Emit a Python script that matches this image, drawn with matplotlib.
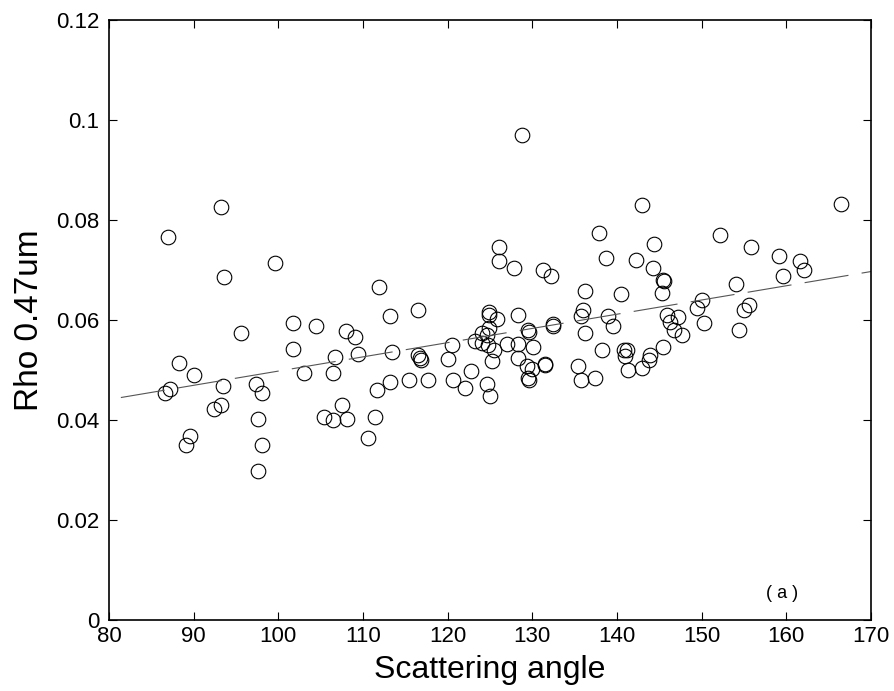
import numpy as np
import matplotlib.pyplot as plt

plt.rcParams["font.family"] = ["Liberation Sans", "DejaVu Sans"]

# scattering angle (deg) and reflectance at 0.47um
angle = [
    87.0, 93.26, 99.66, 93.6, 95.55, 88.27, 90.07, 86.6, 87.24, 93.43,
    97.4, 98.03, 92.4, 93.26, 97.56, 89.53, 89.1, 98.03, 97.6, 111.92,
    113.15, 116.46, 101.73, 104.45, 107.96, 109.02, 101.73, 106.73, 109.45, 113.39,
    116.5, 116.7, 116.9, 103.03, 106.49, 113.15, 111.69, 115.43, 117.68, 107.55,
    105.43, 106.49, 108.15, 111.45, 110.62,
    120.47, 120.07, 120.66, 122.08, 122.72, 123.19, 124.0, 124.6, 124.0, 124.8,
    124.84, 124.84, 125.79, 124.88, 125.47, 125.2, 124.6, 125.0, 126.02, 126.02,
    127.87, 128.27, 127.0, 128.27, 128.27, 128.74, 129.5, 129.6, 130.11, 129.33,
    129.92, 129.5, 129.6, 131.22, 132.24, 132.45, 132.45, 131.49, 131.45, 136.2,
    136.02, 135.75, 136.2, 135.36, 135.75, 137.4, 137.87, 138.7, 138.9, 139.53,
    138.27,
    142.99, 142.2, 140.5, 140.86, 141.22, 140.98, 141.33, 142.99, 143.86, 143.8,
    144.41, 144.25, 145.47, 145.55, 145.27, 145.47, 145.94, 147.2, 146.26, 146.73,
    147.64, 150.07, 149.4, 150.24, 152.13, 154.01, 154.37, 155.03, 155.62, 155.82,
    159.17, 159.64, 161.6, 162.08, 166.41,
]
rho = [
    0.0766, 0.0827, 0.0715, 0.0687, 0.0575, 0.0515, 0.0490, 0.0455, 0.0462, 0.0469,
    0.0473, 0.0455, 0.0422, 0.0431, 0.0403, 0.0369, 0.0351, 0.0351, 0.0298, 0.0666,
    0.0609, 0.0620, 0.0595, 0.0589, 0.0578, 0.0567, 0.0542, 0.0526, 0.0533, 0.0537,
    0.0530, 0.0525, 0.0521, 0.0494, 0.0494, 0.0476, 0.0460, 0.0480, 0.0480, 0.0431,
    0.0407, 0.0400, 0.0403, 0.0407, 0.0365,
    0.0551, 0.0523, 0.0480, 0.0465, 0.0498, 0.0558, 0.0575, 0.0570, 0.0555, 0.0550,
    0.0617, 0.0610, 0.0603, 0.0585, 0.0541, 0.0519, 0.0473, 0.0448, 0.0746, 0.0718,
    0.0704, 0.0610, 0.0553, 0.0553, 0.0525, 0.0970, 0.0580, 0.0577, 0.0547, 0.0508,
    0.0502, 0.0485, 0.0481, 0.0700, 0.0689, 0.0592, 0.0589, 0.0512, 0.0511, 0.0659,
    0.0620, 0.0608, 0.0575, 0.0509, 0.0480, 0.0484, 0.0774, 0.0725, 0.0609, 0.0588,
    0.0541,
    0.0831, 0.0721, 0.0652, 0.0541, 0.0541, 0.0528, 0.0501, 0.0504, 0.0530, 0.0520,
    0.0753, 0.0704, 0.0681, 0.0678, 0.0655, 0.0547, 0.0611, 0.0607, 0.0597, 0.0581,
    0.0571, 0.0641, 0.0624, 0.0595, 0.0771, 0.0673, 0.0581, 0.0620, 0.0631, 0.0746,
    0.0728, 0.0689, 0.0718, 0.0701, 0.0833,
]

# linear trend end points
trend_x = [81.4, 170.0]
trend_y = [0.0445, 0.0697]

fig = plt.figure(figsize=(8.95, 6.91), dpi=100)
ax = fig.add_axes([0.1218, 0.1027, 0.8514, 0.8683])

ax.plot(angle, rho, "o", ms=10.5, mfc="none", mec="black", mew=0.8)
ax.plot(trend_x, trend_y, color="#555555", lw=0.8, linestyle=(0, (40, 12)))

ax.set_xlim(80, 170)
ax.set_ylim(0, 0.12)
ax.set_xticks(np.arange(80, 171, 10))
ax.set_yticks([0, 0.02, 0.04, 0.06, 0.08, 0.1, 0.12])
ax.set_yticklabels(["0", "0.02", "0.04", "0.06", "0.08", "0.1", "0.12"])
ax.tick_params(direction="in", length=6, width=0.8, labelsize=16,
               top=True, right=True)
ax.tick_params(axis="y", pad=7)
ax.tick_params(axis="x", pad=4)
for s in ax.spines.values():
    s.set_linewidth(1.2)

ax.set_xlabel("Scattering angle", fontsize=23, labelpad=6)
ax.set_ylabel("Rho 0.47um", fontsize=24, labelpad=8)
ax.text(159.5, 0.0054, "( a )", fontsize=13, ha="center", va="center")

fig.savefig("out.png", dpi=100)
